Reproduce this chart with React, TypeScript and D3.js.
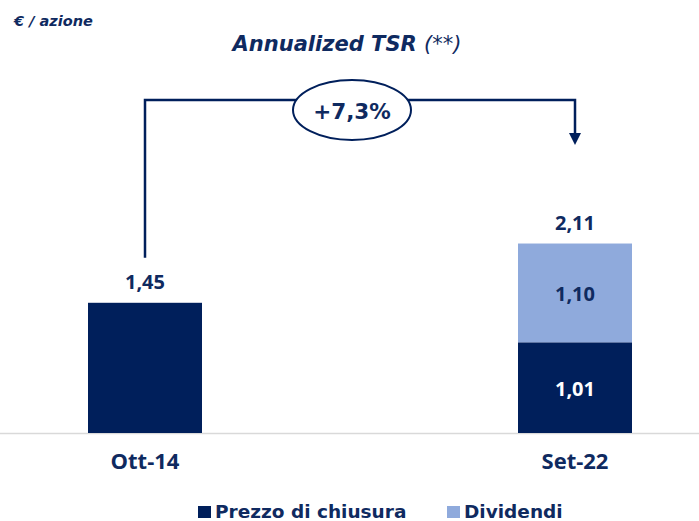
import React, { useEffect, useRef } from "react";
import * as d3 from "d3";

const categories = ["Ott-14", "Set-22"];
const prezzo = [1.45, 1.01];
const dividendi = [0, 1.1];
const totals = ["1,45", "2,11"];
const segLabels = ["", "1,01"];
const divLabels = ["", "1,10"];
const tsr = "+7,3%";
const seriesNames = ["Prezzo di chiusura", "Dividendi"];
const colors = ["#001f5b", "#8faadc"];
const textColor = "#0f2a60";

const App = () => {
  const ref = useRef<SVGSVGElement>(null);

  useEffect(() => {
    draw();
  });

  const draw = () => {
    const svg = d3.select(ref.current);
    svg.selectAll("*").remove();

    const width = 699;
    const baseY = 433;
    const barW = 114;

    const x = d3.scalePoint().domain(categories).range([145, 575]);
    const y = d3.scaleLinear().domain([0, 2.2]).range([baseY, baseY - 2.2 * 89.8]);

    const defs = svg.append("defs");
    defs
      .append("marker")
      .attr("id", "arrow")
      .attr("viewBox", "0 0 10 10")
      .attr("refX", 0)
      .attr("refY", 5)
      .attr("markerWidth", 12)
      .attr("markerHeight", 12)
      .attr("markerUnits", "userSpaceOnUse")
      .attr("orient", "auto")
      .append("path")
      .attr("d", "M0,0 L10,5 L0,10 Z")
      .attr("fill", colors[0]);

    // baseline
    svg
      .append("line")
      .attr("x1", 0)
      .attr("x2", width)
      .attr("y1", baseY + 0.5)
      .attr("y2", baseY + 0.5)
      .attr("stroke", "#d9d9d9")
      .attr("stroke-width", 1.5);

    // prezzo bars
    svg
      .selectAll(".prezzo")
      .data(categories)
      .enter()
      .append("rect")
      .attr("x", (d) => x(d)! - barW / 2)
      .attr("y", (d, i) => y(prezzo[i]))
      .attr("width", barW)
      .attr("height", (d, i) => y(0) - y(prezzo[i]))
      .attr("fill", colors[0]);

    // dividend bars
    svg
      .selectAll(".div")
      .data(categories)
      .enter()
      .append("rect")
      .attr("x", (d) => x(d)! - barW / 2)
      .attr("y", (d, i) => y(prezzo[i] + dividendi[i]))
      .attr("width", barW)
      .attr("height", (d, i) => y(prezzo[i]) - y(prezzo[i] + dividendi[i]))
      .attr("fill", colors[1]);

    const labelFont = "'Open Sans', Lato, sans-serif";

    // totals
    svg
      .selectAll(".tot")
      .data(categories)
      .enter()
      .append("text")
      .attr("x", (d) => x(d)!)
      .attr("y", (d, i) => y(prezzo[i] + dividendi[i]) - 14)
      .attr("text-anchor", "middle")
      .attr("font-family", labelFont)
      .attr("font-weight", "bold")
      .attr("font-size", 20)
      .attr("fill", textColor)
      .text((d, i) => totals[i]);

    // inner labels
    categories.forEach((c, i) => {
      if (segLabels[i]) {
        svg
          .append("text")
          .attr("x", x(c)!)
          .attr("y", y(prezzo[i] / 2) + 8)
          .attr("text-anchor", "middle")
          .attr("font-family", labelFont)
          .attr("font-weight", "bold")
          .attr("font-size", 20)
          .attr("fill", "#ffffff")
          .text(segLabels[i]);
      }
      if (divLabels[i]) {
        svg
          .append("text")
          .attr("x", x(c)!)
          .attr("y", y(prezzo[i] + dividendi[i] / 2) + 8)
          .attr("text-anchor", "middle")
          .attr("font-family", labelFont)
          .attr("font-weight", "bold")
          .attr("font-size", 20)
          .attr("fill", textColor)
          .text(divLabels[i]);
      }
    });

    // category labels
    svg
      .selectAll(".cat")
      .data(categories)
      .enter()
      .append("text")
      .attr("x", (d) => x(d)!)
      .attr("y", 469)
      .attr("text-anchor", "middle")
      .attr("font-family", labelFont)
      .attr("font-weight", "bold")
      .attr("font-size", 22)
      .attr("fill", textColor)
      .text((d) => d);

    // unit label
    svg
      .append("text")
      .attr("x", 14)
      .attr("y", 26)
      .attr("font-family", "'DejaVu Sans', sans-serif")
      .attr("font-weight", "bold")
      .attr("font-style", "italic")
      .attr("font-size", 14.5)
      .attr("fill", textColor)
      .text("€ / azione");

    // title
    const title = svg
      .append("text")
      .attr("x", 347)
      .attr("y", 51)
      .attr("text-anchor", "middle")
      .attr("font-family", "'DejaVu Sans', sans-serif")
      .attr("font-style", "italic")
      .attr("font-size", 21)
      .attr("fill", textColor);
    title.append("tspan").attr("font-weight", "bold").text("Annualized TSR ");
    title.append("tspan").attr("font-weight", "normal").text("(**)");

    // bracket
    const x0 = x(categories[0])!;
    const x1 = x(categories[1])!;
    const topY = 100;
    svg
      .append("path")
      .attr("d", `M${x0},${y(prezzo[0]) - 45} V${topY} H${x1} V${133}`)
      .attr("fill", "none")
      .attr("stroke", colors[0])
      .attr("stroke-width", 2.5)
      .attr("marker-end", "url(#arrow)");

    svg
      .append("ellipse")
      .attr("cx", 352)
      .attr("cy", 110)
      .attr("rx", 59)
      .attr("ry", 30)
      .attr("fill", "#ffffff")
      .attr("stroke", colors[0])
      .attr("stroke-width", 2);
    svg
      .append("text")
      .attr("x", 352)
      .attr("y", 119)
      .attr("text-anchor", "middle")
      .attr("font-family", "'DejaVu Sans', sans-serif")
      .attr("font-weight", "bold")
      .attr("font-size", 21.5)
      .attr("fill", textColor)
      .text(tsr);

    // legend
    const legendX = [198, 447];
    seriesNames.forEach((s, i) => {
      svg
        .append("rect")
        .attr("x", legendX[i])
        .attr("y", 506)
        .attr("width", 13)
        .attr("height", 12)
        .attr("fill", colors[i]);
      svg
        .append("text")
        .attr("x", legendX[i] + 17)
        .attr("y", 518)
        .attr("font-family", "'DejaVu Sans', sans-serif")
        .attr("font-weight", "bold")
        .attr("font-size", 18.5)
        .attr("fill", textColor)
        .text(s);
    });
  };

  return (
    <div style={{ position: "absolute", left: 0, top: 0 }}>
      <svg ref={ref} width={699} height={521} style={{ display: "block" }} />
    </div>
  );
};

export default App;
